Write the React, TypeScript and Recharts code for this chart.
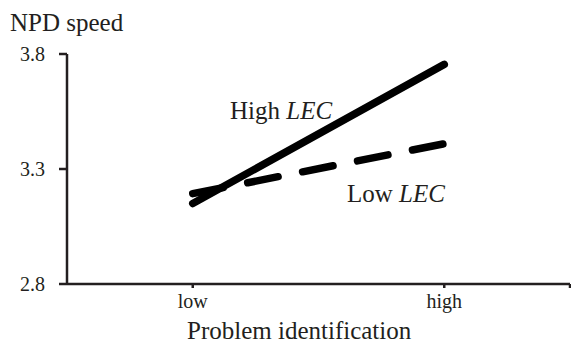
import React from "react";
import { LineChart, Line, XAxis, YAxis } from "recharts";

const categories = ["low", "high"];
const highLEC = [3.15, 3.755];
const lowLEC = [3.193, 3.41];
const yTicks = [2.8, 3.3, 3.8];

const data = categories.map((c, i) => ({
  x: i * 2 + 1,
  name: c,
  high: highLEC[i],
  low: lowLEC[i],
}));

const INK = "#231f20";
const FONT = "'Liberation Serif', 'Times New Roman', serif";

const fmtX = (v: number) => {
  const i = (v - 1) / 2;
  return Number.isInteger(i) && categories[i] ? categories[i] : "";
};

const XTick = (props: any) => {
  const { x, y, payload } = props;
  return (
    <text x={x} y={y} dy="0.71em" textAnchor="middle" fill={INK} fontSize={20} fontFamily={FONT}>
      {fmtX(payload.value)}
    </text>
  );
};

const YTick = (props: any) => {
  const { x, y, payload } = props;
  return (
    <text x={x} y={y} dy="0.355em" textAnchor="end" fill={INK} fontSize={20} fontFamily={FONT}>
      {Number(payload.value).toFixed(1)}
    </text>
  );
};

const textStyle: React.CSSProperties = {
  position: "absolute",
  fontFamily: FONT,
  fontSize: 25,
  lineHeight: "25px",
  color: INK,
  whiteSpace: "nowrap",
};

export default function App() {
  return (
    <div
      style={{
        position: "absolute",
        left: 0,
        top: 0,
        width: 571,
        height: 344,
        background: "#fff",
        fontFamily: FONT,
      }}
    >
      <LineChart
        width={571}
        height={344}
        data={data}
        margin={{ top: 54, right: 1, bottom: 0, left: 0 }}
      >
        <XAxis
          dataKey="x"
          type="number"
          domain={[0, 4]}
          ticks={[1, 3, 4]}
          stroke={INK}
          strokeWidth={2.5}
          tickSize={4}
          tickMargin={6}
          height={60}
          tick={<XTick />}
        />
        <YAxis
          domain={[2.8, 3.8]}
          ticks={yTicks}
          stroke={INK}
          strokeWidth={2.5}
          tickSize={8}
          tickMargin={14}
          width={67}
          tick={<YTick />}
        />
        <Line
          dataKey="low"
          stroke="#000"
          strokeWidth={7.5}
          strokeDasharray="31 25"
          strokeLinecap="round"
          dot={false}
          isAnimationActive={false}
        />
        <Line
          dataKey="high"
          stroke="#000"
          strokeWidth={7.5}
          strokeLinecap="round"
          dot={false}
          isAnimationActive={false}
        />
      </LineChart>
      <div style={{ ...textStyle, left: 10, top: 10 }}>NPD speed</div>
      <div style={{ ...textStyle, left: 230, top: 98 }}>
        High <i>LEC</i>
      </div>
      <div style={{ ...textStyle, left: 347, top: 181 }}>
        Low <i>LEC</i>
      </div>
      <div style={{ ...textStyle, left: 187, top: 318 }}>Problem identification</div>
    </div>
  );
}
